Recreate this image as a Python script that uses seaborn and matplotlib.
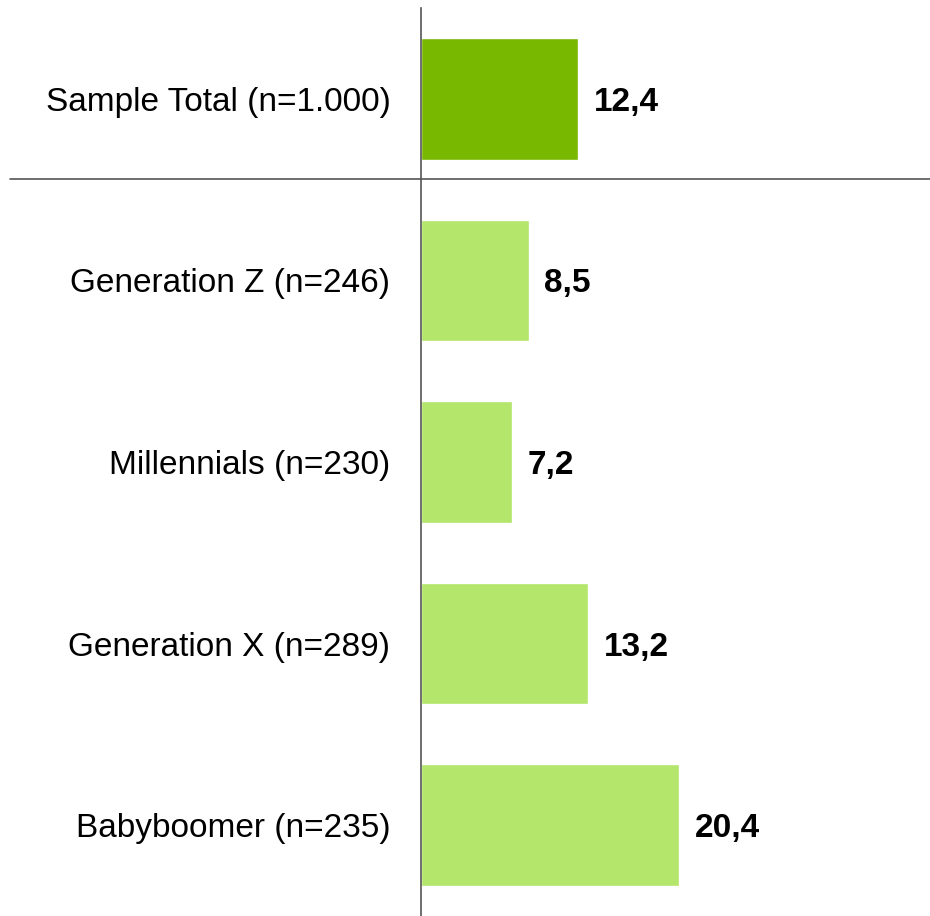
import matplotlib
matplotlib.use("Agg")
import matplotlib.pyplot as plt
import matplotlib.transforms as mtransforms
import seaborn as sns
import pandas as pd

groups = ["Sample Total (n=1.000)", "Generation Z (n=246)", "Millennials (n=230)",
          "Generation X (n=289)", "Babyboomer (n=235)"]
values = [12.4, 8.5, 7.2, 13.2, 20.4]
bar_colors = ["#78B800", "#B3E66B", "#B3E66B", "#B3E66B", "#B3E66B"]


def plot(df):
    sns.set_theme(style="white")
    plt.rcParams["font.family"] = ["Liberation Sans", "DejaVu Sans"]

    fig = plt.figure(figsize=(9.3, 9.16), dpi=100)
    ax = fig.add_axes([421 / 930, 0 / 916, 1 - 421 / 930, 908 / 916])

    sns.barplot(data=df, x="value", y="group", hue="group", palette=bar_colors,
                legend=False, width=0.67, ax=ax, saturation=1)

    ax.set_xlim(0, 40.2)
    ax.set_ylim(4.5, -0.5)
    ax.set_xlabel("")
    ax.set_ylabel("")
    ax.set_xticks([])
    ax.tick_params(axis="y", length=0, pad=22, labelsize=24)
    for lbl in ax.get_yticklabels():
        lbl.set_color("black")

    for s in ["top", "right", "bottom"]:
        ax.spines[s].set_visible(False)
    ax.spines["left"].set_color("#555555")
    ax.spines["left"].set_linewidth(1.2)

    for i, v in enumerate(df["value"]):
        ax.text(v + 1.25, i, f"{v:.1f}".replace(".", ","), va="center_baseline",
                ha="left", fontsize=24, fontweight="bold", color="black")

    # separator between total and the generations
    trans = mtransforms.blended_transform_factory(fig.transFigure, ax.transData)
    ax.plot([10 / 930, 1], [0.44, 0.44], transform=trans, color="#555555",
            lw=1.2, clip_on=False)

    plt.savefig("out.png", dpi=100)


if __name__ == "__main__":
    data = pd.DataFrame({"group": groups, "value": values})
    plot(data)
